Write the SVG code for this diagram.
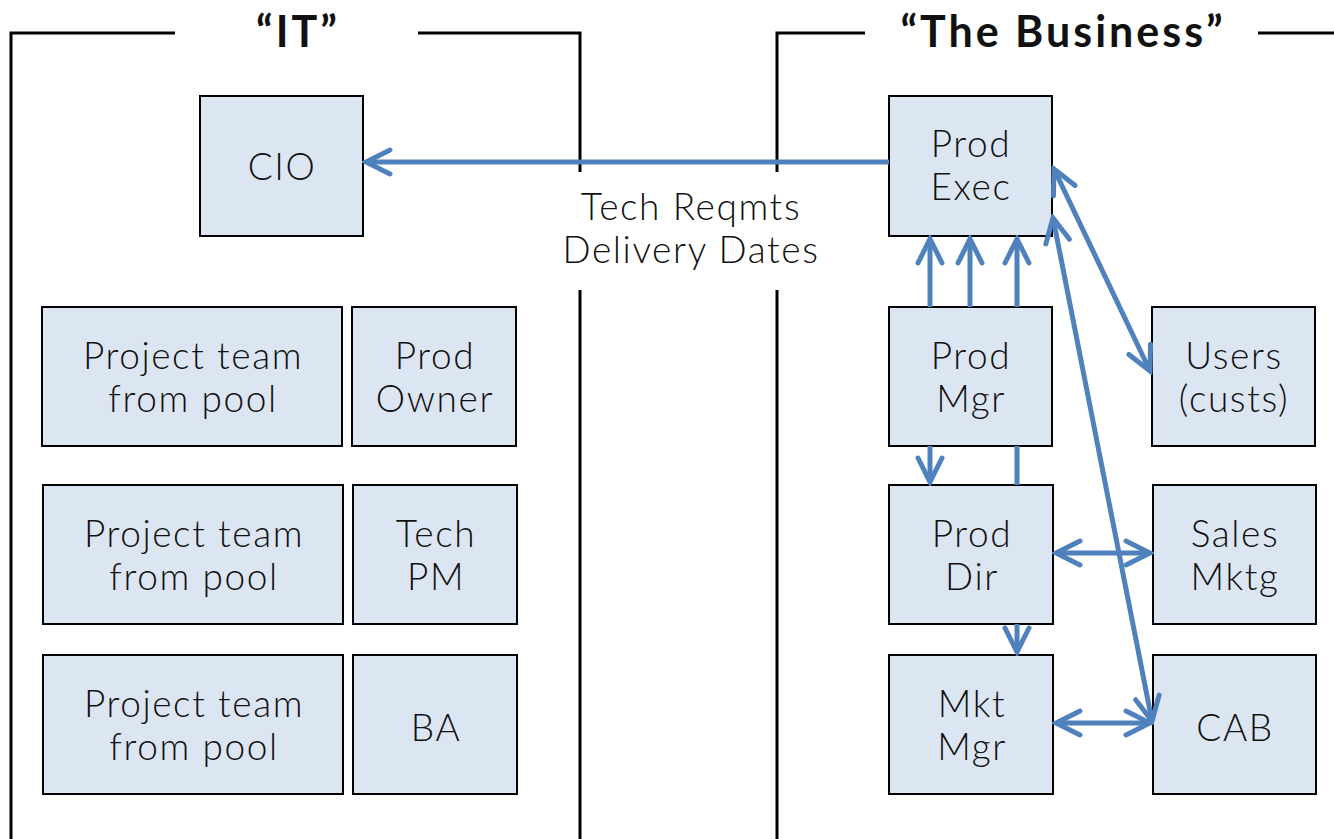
<svg xmlns="http://www.w3.org/2000/svg" width="1334" height="839" viewBox="0 0 1334 839">
  <style>
    .frame { fill: none; stroke: #000; stroke-width: 3; }
    .box rect { fill: #dce6f2; stroke: #000; stroke-width: 2; }
    .box text, .label { font-family: "Lato", "Open Sans", sans-serif; font-size: 37px; font-weight: 300; letter-spacing: 1.6px; fill: #111; text-anchor: middle; }
    .title { font-family: "Lato", "Open Sans", sans-serif; font-size: 43px; font-weight: bold; letter-spacing: 3px; fill: #111; text-anchor: middle; }
    .conn { fill: none; stroke: #4f81bd; stroke-width: 5; }
  </style>
  <defs>
    <marker id="chev" markerUnits="userSpaceOnUse" viewBox="-30 -16 34 32" refX="0" refY="0" markerWidth="34" markerHeight="32" orient="auto-start-reverse">
      <path d="M -24 -12 L 0 0 L -24 12" fill="none" stroke="#4f81bd" stroke-width="5" stroke-linecap="round" stroke-linejoin="miter"/>
    </marker>
  </defs>

  <!-- container frames -->
  <g id="frame-it">
    <path class="frame" d="M 11 839 V 33 H 175 M 418 33 H 580 V 172 M 580 290 V 839"/>
    <text class="title" x="298" y="47">“IT”</text>
  </g>
  <g id="frame-business">
    <path class="frame" d="M 777 172 V 33 H 865 M 1258 33 H 1334 M 777 290 V 839"/>
    <text class="title" x="1063" y="47">“The Business”</text>
  </g>

  <!-- IT side -->
  <g id="cio" class="box"><rect x="200" y="96" width="163" height="140"/><text x="282" y="180">CIO</text></g>
  <g id="team1" class="box"><rect x="42" y="307" width="300" height="139"/><text x="193" y="369">Project team</text><text x="193" y="412">from pool</text></g>
  <g id="prod-owner" class="box"><rect x="352" y="307" width="164" height="139"/><text x="435" y="369">Prod</text><text x="435" y="412">Owner</text></g>
  <g id="team2" class="box"><rect x="43" y="485" width="300" height="139"/><text x="194" y="547">Project team</text><text x="194" y="590">from pool</text></g>
  <g id="tech-pm" class="box"><rect x="353" y="485" width="164" height="139"/><text x="436" y="547">Tech</text><text x="436" y="590">PM</text></g>
  <g id="team3" class="box"><rect x="43" y="655" width="300" height="139"/><text x="194" y="717">Project team</text><text x="194" y="760">from pool</text></g>
  <g id="ba" class="box"><rect x="353" y="655" width="164" height="139"/><text x="436" y="741">BA</text></g>

  <!-- Business side -->
  <g id="prod-exec" class="box"><rect x="889" y="96" width="163" height="140"/><text x="971" y="157">Prod</text><text x="971" y="200">Exec</text></g>
  <g id="prod-mgr" class="box"><rect x="889" y="307" width="163" height="139"/><text x="971" y="369">Prod</text><text x="971" y="412">Mgr</text></g>
  <g id="prod-dir" class="box"><rect x="889" y="485" width="164" height="139"/><text x="972" y="547">Prod</text><text x="972" y="590">Dir</text></g>
  <g id="mkt-mgr" class="box"><rect x="889" y="655" width="164" height="139"/><text x="972" y="717">Mkt</text><text x="972" y="760">Mgr</text></g>
  <g id="users" class="box"><rect x="1152" y="307" width="163" height="139"/><text x="1234" y="369">Users</text><text x="1234" y="412">(custs)</text></g>
  <g id="sales" class="box"><rect x="1153" y="485" width="163" height="139"/><text x="1235" y="547">Sales</text><text x="1235" y="590">Mktg</text></g>
  <g id="cab" class="box"><rect x="1153" y="655" width="163" height="139"/><text x="1235" y="741">CAB</text></g>

  <!-- connectors -->
  <g id="connectors">
    <line class="conn" x1="889" y1="162" x2="366" y2="162" marker-end="url(#chev)"/>
    <line class="conn" x1="930" y1="307" x2="930" y2="239" marker-end="url(#chev)"/>
    <line class="conn" x1="970" y1="307" x2="970" y2="239" marker-end="url(#chev)"/>
    <line class="conn" x1="1017" y1="307" x2="1017" y2="239" marker-end="url(#chev)"/>
    <line class="conn" x1="930" y1="446" x2="930" y2="482" marker-end="url(#chev)"/>
    <line class="conn" x1="1017" y1="446" x2="1017" y2="485"/>
    <line class="conn" x1="1017" y1="624" x2="1017" y2="652" marker-end="url(#chev)"/>
    <line class="conn" x1="1054" y1="169" x2="1150" y2="371" marker-start="url(#chev)" marker-end="url(#chev)"/>
    <line class="conn" x1="1053" y1="218" x2="1152" y2="721" marker-start="url(#chev)" marker-end="url(#chev)"/>
    <line class="conn" x1="1056" y1="553" x2="1150" y2="553" marker-start="url(#chev)" marker-end="url(#chev)"/>
    <line class="conn" x1="1056" y1="723" x2="1150" y2="723" marker-start="url(#chev)" marker-end="url(#chev)"/>
  </g>

  <g id="flow-label">
    <text class="label" x="691" y="220">Tech Reqmts</text>
    <text class="label" x="691" y="263">Delivery Dates</text>
  </g>
</svg>
